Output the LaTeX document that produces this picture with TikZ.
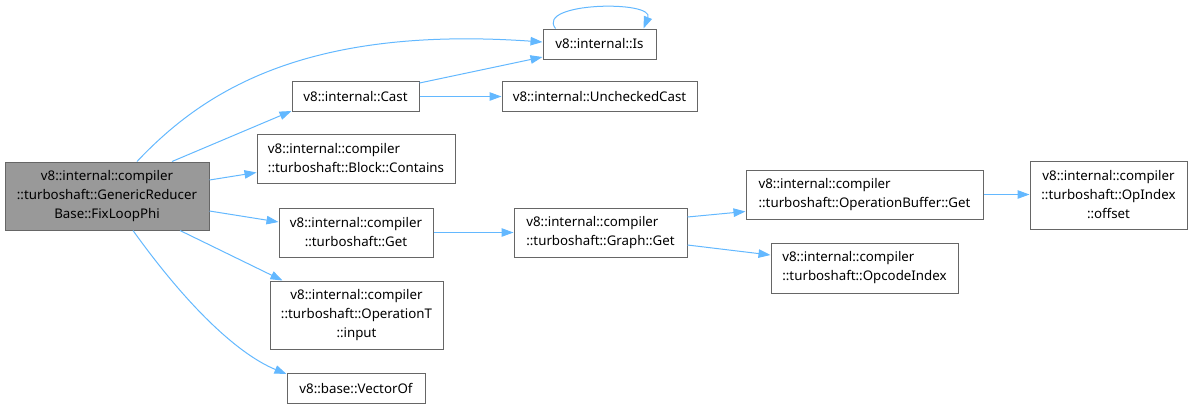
\documentclass[tikz,border=0pt]{standalone}
\usepackage{fontspec}
\setmainfont{Noto Sans}
\usetikzlibrary{arrows.meta}
\definecolor{edgec}{HTML}{63B8FF}
\definecolor{bordc}{HTML}{666666}
\definecolor{mainf}{HTML}{999999}
\begin{document}
\begin{tikzpicture}[x=1pt,y=1pt,
  box/.style={draw=bordc,line width=1pt,fill=white,inner sep=0pt,
    font=\fontsize{13.3}{19}\selectfont,align=center},
  lbox/.style={box,align=left},
  edge/.style={draw=edgec,line width=1pt,-{Triangle[length=12pt,width=8.5pt]}}]
\useasboundingbox (0,0) rectangle (1192,-408);
\node[box,fill=mainf,minimum width=204,minimum height=68] (main) at (107,-196)
  {v8::internal::compiler\\::turboshaft::GenericReducer\\Base::FixLoopPhi};
\node[box,minimum width=113,minimum height=30] (is) at (599.5,-44) {v8::internal::Is};
\node[box,minimum width=127,minimum height=30] (cast) at (355.5,-96.5) {v8::internal::Cast};
\node[box,minimum width=195,minimum height=30] (unch) at (599.5,-96.5) {v8::internal::UncheckedCast};
\node[lbox,minimum width=198,minimum height=49] (cont) at (356,-158.5)
  {v8::internal::compiler\\::turboshaft::Block::Contains};
\node[box,minimum width=154,minimum height=49] (get) at (356,-232.5)
  {v8::internal::compiler\\::turboshaft::Get};
\node[lbox,minimum width=173,minimum height=49] (gget) at (600.5,-232.5)
  {v8::internal::compiler\\::turboshaft::Graph::Get};
\node[box,minimum width=173,minimum height=68] (inp) at (356.5,-315)
  {v8::internal::compiler\\::turboshaft::OperationT\\::input};
\node[box,minimum width=138,minimum height=30] (vec) at (356,-388) {v8::base::VectorOf};
\node[lbox,minimum width=237,minimum height=49] (obget) at (864.5,-194.5)
  {v8::internal::compiler\\::turboshaft::OperationBuffer::Get};
\node[box,minimum width=157,minimum height=68] (off) at (1108.5,-195)
  {v8::internal::compiler\\::turboshaft::OpIndex\\::offset};
\node[lbox,minimum width=187,minimum height=50] (opc) at (864.5,-268)
  {v8::internal::compiler\\::turboshaft::OpcodeIndex};
% edges
\draw[edge] ([xshift=30pt]main.north) .. controls (200,-95) and (300,-25) .. ([yshift=2pt]is.west);
\draw[edge] ([xshift=65pt]main.north) -- ([yshift=1pt]cast.south west);
\draw[edge] ([yshift=16pt]main.east) -- ([yshift=-14pt]cont.west);
\draw[edge] ([yshift=-15pt]main.east) -- ([yshift=10.5pt]get.west);
\draw[edge] ([xshift=73pt]main.south) -- ([xshift=-74pt]inp.north);
\draw[edge] ([xshift=26pt]main.south) .. controls (190,-310) and (240,-355) .. ([yshift=14pt]vec.west);
\draw[edge] ([yshift=-2pt]cast.north east) -- ([yshift=-13pt]is.west);
\draw[edge] (cast.east) -- (unch.west);
\draw[edge] ([xshift=-44pt]is.north) .. controls (535,-2) and (655,0) .. ([xshift=44pt]is.north);
\draw[edge] (get.east) -- (gget.west);
\draw[edge] ([yshift=15.5pt]gget.east) -- ([yshift=-17pt]obget.west);
\draw[edge] ([yshift=-12.5pt]gget.east) -- ([yshift=13pt]opc.west);
\draw[edge] (obget.east) -- (off.west |- obget.east);
\end{tikzpicture}
\end{document}
